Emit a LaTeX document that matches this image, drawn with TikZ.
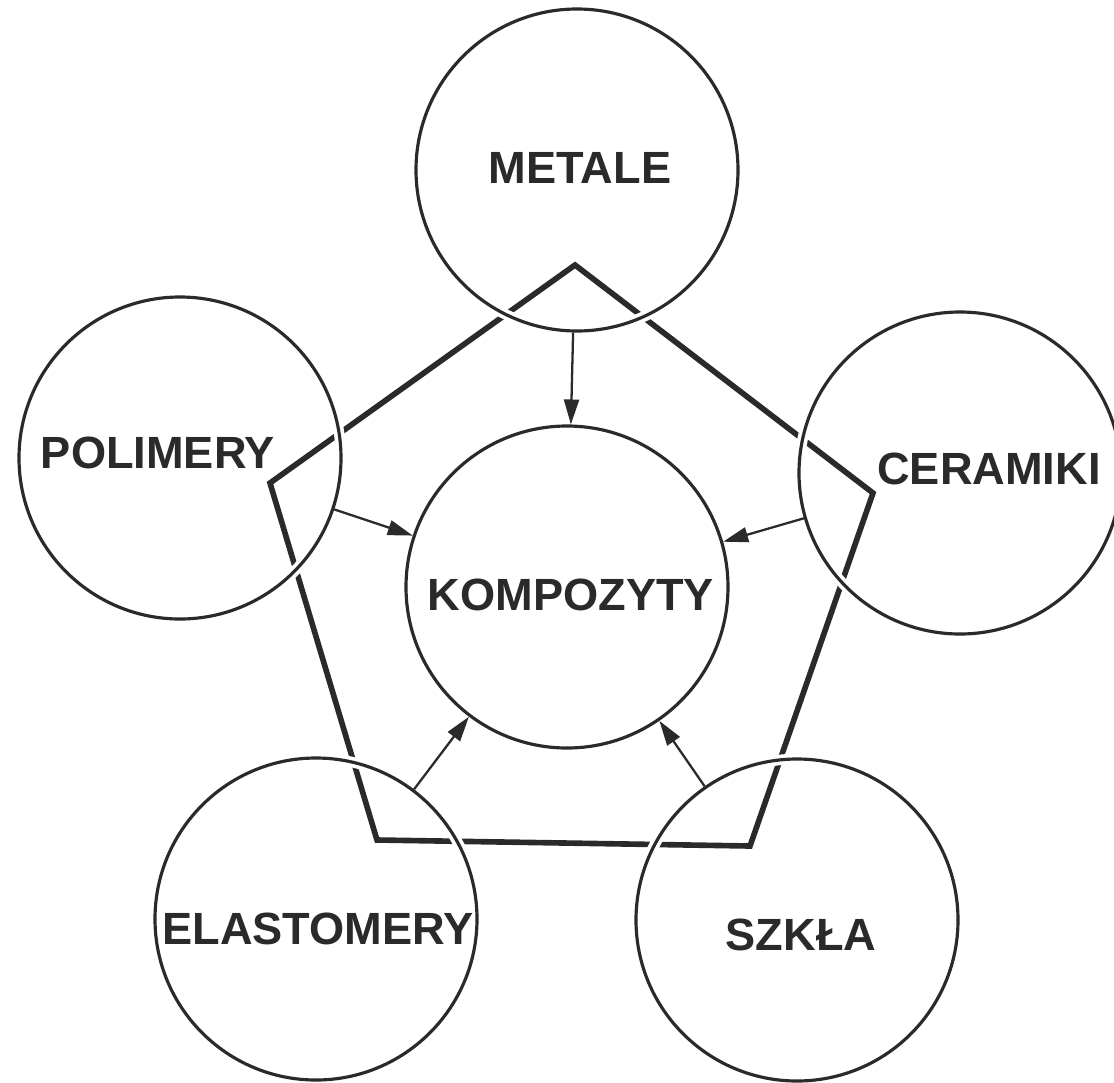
\documentclass[tikz,border=0pt]{standalone}
\usepackage{fontspec}
\setmainfont{Liberation Sans}
\usetikzlibrary{arrows.meta}
\definecolor{ink}{HTML}{2A2A2A}

\begin{document}
\begin{tikzpicture}[
  x=0.2mm, y=-0.2mm,
  ring/.style={circle, draw=ink, line width=1.8pt, minimum size=64.4mm,
    inner sep=0pt, preaction={draw=white, line width=6pt}},
  txt/.style={font=\bfseries\fontsize{25.7}{30}\selectfont, text=ink, inner sep=0pt},
  penta/.style={draw=ink, line width=3.2pt},
  arr/.style={-{Triangle[length=5mm, width=3mm]}, draw=ink, line width=1.3pt}]
\useasboundingbox (0,0) rectangle (1114,1082);
\coordinate (top) at (575,265);
\coordinate (right) at (873,493);
\coordinate (botright) at (750,846);
\coordinate (botleft) at (377,840);
\coordinate (left) at (270,483);
\draw[penta] (top) -- (right) -- (botright) -- (botleft) -- (left) -- cycle;
\node[ring] (metale) at (577,170) {};
\node[ring] (polimery) at (180,458) {};
\node[ring] (ceramiki) at (960,473) {};
\node[ring] (kompozyty) at (567,587) {};
\node[ring] (elastomery) at (316,919) {};
\node[ring] (szkla) at (797,920) {};
\node[txt] (metale-t) at (580,168) {METALE};
\node[txt] (polimery-t) at (158,453) {POLIMERY};
\node[txt] (ceramiki-t) at (989,469) {CERAMIKI};
\node[txt] (kompozyty-t) at (571,595) {KOMPOZYTY};
\node[txt] (elastomery-t) at (318,929) {ELASTOMERY};
\node[txt] (szkla-t) at (801,935) {SZKŁA};
\draw[arr] (metale) -- (kompozyty);
\draw[arr] (polimery) -- (kompozyty);
\draw[arr] (ceramiki) -- (kompozyty);
\draw[arr] (elastomery) -- (kompozyty);
\draw[arr] (szkla) -- (kompozyty);
\end{tikzpicture}
\end{document}
